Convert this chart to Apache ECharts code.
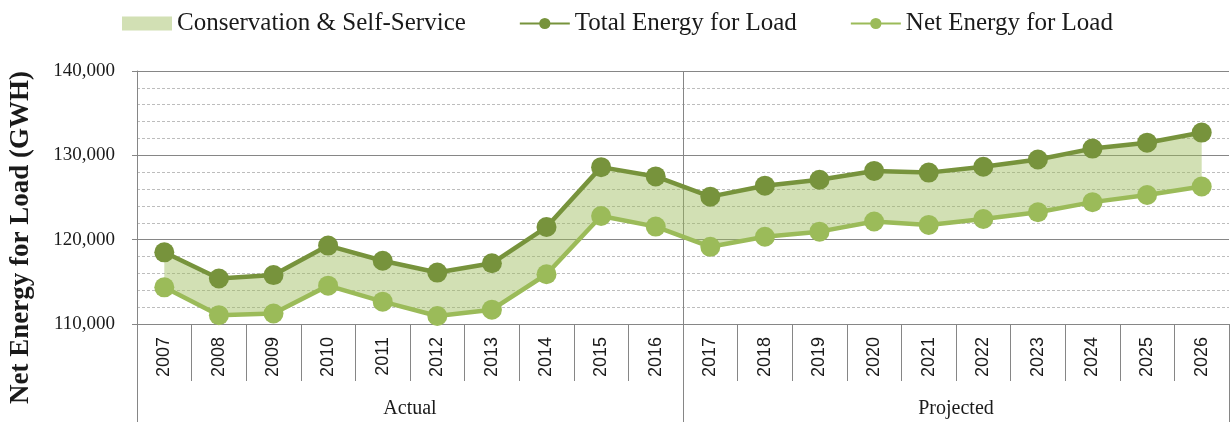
<!DOCTYPE html>
<html>
<head>
<meta charset="utf-8">
<script src="https://cdn.jsdelivr.net/npm/echarts@6/dist/echarts.min.js"></script>
<style>html,body{margin:0;padding:0;background:#fff}#c{width:1231px;height:422px}</style>
</head>
<body>
<div id="c"></div>
<script>
var years = ['2007','2008','2009','2010','2011','2012','2013','2014','2015','2016','2017','2018','2019','2020','2021','2022','2023','2024','2025','2026'];
var groups = ['Actual','Projected'];
var totalEnergy = [118500,115400,115800,119300,117500,116100,117200,121500,128600,127500,125100,126400,127100,128150,127950,128650,129500,130800,131500,132700];
var netEnergy = [114350,111050,111250,114550,112650,110950,111700,115900,122800,121550,119150,120350,120950,122150,121750,122450,123250,124450,125300,126300];
var yTicks = {min:110000, max:140000, interval:10000};

var gap = totalEnergy.map(function(v,i){ return v - netEnergy[i]; });
var serif = 'Liberation Serif';
var grey = '#868686';

var chart = echarts.init(document.getElementById('c'), null, {renderer:'canvas'});
chart.setOption({
  animation:false,
  backgroundColor:'#fff',
  legend:{
    left:117, top:6, itemWidth:50, itemHeight:14, itemGap:53,
    textStyle:{fontFamily:serif, fontSize:25, color:'#1a1a1a'},
    data:[
      {name:'Conservation & Self-Service', icon:'rect'},
      {name:'Total Energy for Load'},
      {name:'Net Energy for Load'}
    ]
  },
  grid:{left:135, right:2, top:71, bottom:98},
  xAxis:[{
    type:'category', data:years, boundaryGap:true,
    axisLine:{show:true, lineStyle:{color:grey, width:1}},
    axisTick:{show:true, interval:0, length:57, lineStyle:{color:grey}},
    axisLabel:{interval:0, rotate:90, margin:13, fontFamily:'Liberation Sans', fontSize:18, color:'#1a1a1a'},
    splitLine:{show:false}
  },{
    type:'category', data:groups, boundaryGap:true, position:'bottom',
    axisLine:{show:false},
    axisTick:{show:true, interval:0, length:100, lineStyle:{color:grey}},
    axisLabel:{interval:0, margin:75, fontFamily:serif, fontSize:20, color:'#1a1a1a'},
    splitLine:{show:true, interval:0, showMinLine:false, showMaxLine:false, lineStyle:{color:grey, width:1}}
  }],
  yAxis:{
    type:'value', min:yTicks.min, max:yTicks.max, interval:yTicks.interval,
    name:'Net Energy for Load (GWH)', nameLocation:'middle', nameRotate:90, nameGap:102,
    nameTextStyle:{fontFamily:serif, fontSize:27, fontWeight:'bold', color:'#1a1a1a', padding:[0,80,0,0]},
    axisLine:{show:true, lineStyle:{color:grey}},
    axisTick:{show:true, length:5, lineStyle:{color:grey}},
    axisLabel:{margin:22, fontFamily:serif, fontSize:19, color:'#1a1a1a',
      formatter:function(v){ return v.toLocaleString('en-US'); }},
    splitLine:{show:true, lineStyle:{color:grey, width:1}},
    minorTick:{show:false, splitNumber:5},
    minorSplitLine:{show:true, lineStyle:{color:'#bdbdbd', type:[3,2], width:1}}
  },
  series:[
    {name:'base', type:'line', stack:'band', data:netEnergy, symbol:'none', silent:true,
     lineStyle:{width:0, opacity:0}, z:1},
    {name:'Conservation & Self-Service', type:'line', stack:'band', data:gap, symbol:'none', silent:true,
     itemStyle:{color:'#d2e0b4'},
     lineStyle:{width:0, opacity:0}, areaStyle:{color:'rgba(155,187,89,0.45)', opacity:1}, z:1},
    {name:'Total Energy for Load', type:'line', data:totalEnergy, symbol:'circle', symbolSize:20,
     itemStyle:{color:'#77933c'}, lineStyle:{color:'#77933c', width:4.5}, z:3},
    {name:'Net Energy for Load', type:'line', data:netEnergy, symbol:'circle', symbolSize:20,
     itemStyle:{color:'#9bbb59'}, lineStyle:{color:'#9bbb59', width:4.5}, z:3}
  ]
});
</script>
</body>
</html>
